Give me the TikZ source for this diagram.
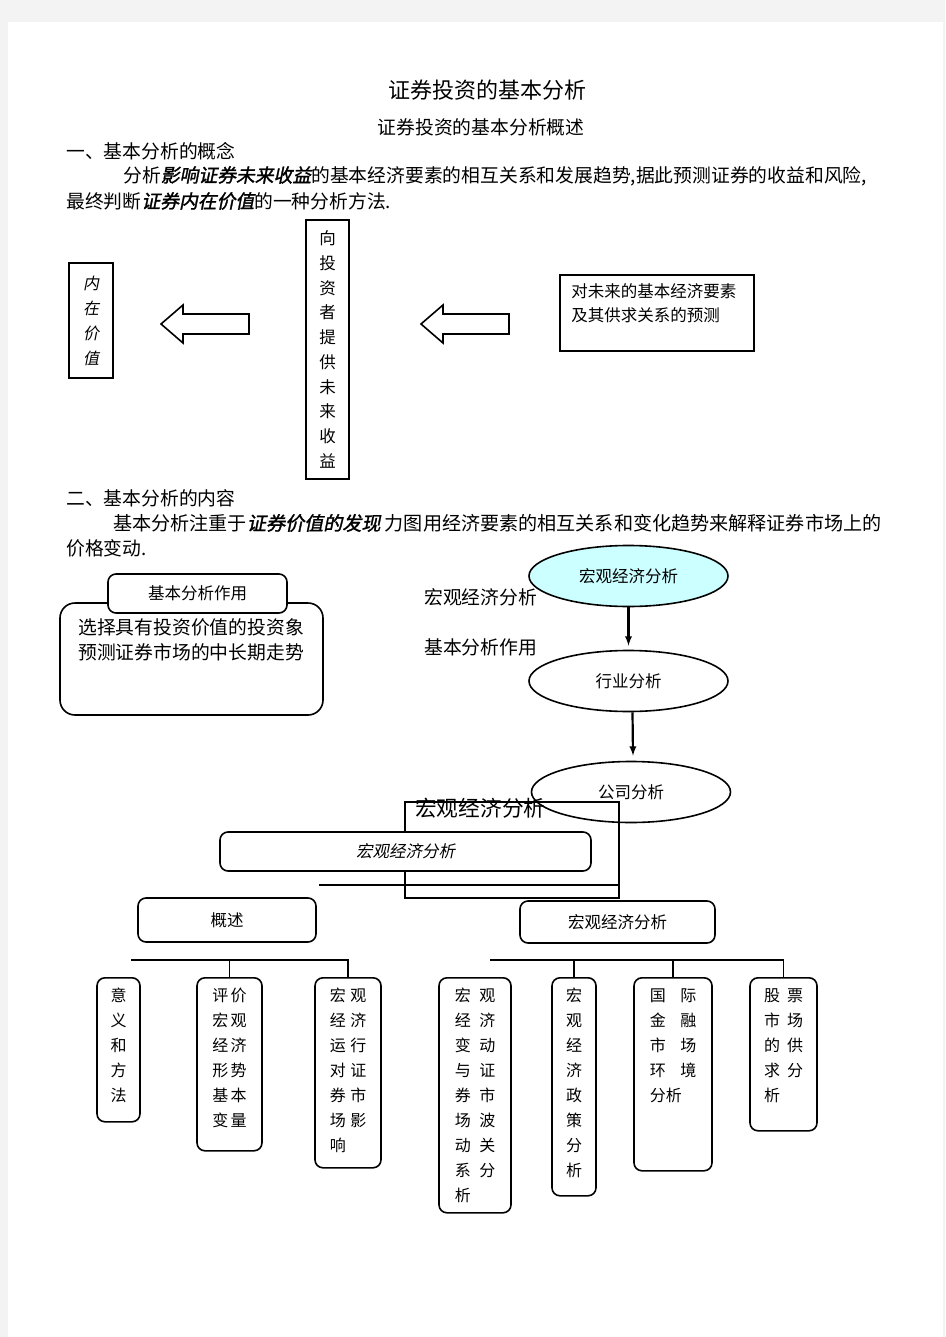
\documentclass[tikz,border=0pt]{standalone}
\usepackage{fontspec}
\setmainfont{Noto Sans CJK SC}
\newfontfamily\cjkit[FakeSlant=0.2]{Noto Sans CJK SC}
\newfontfamily\cjkbi[FakeSlant=0.2,FakeBold=1.5]{Noto Sans CJK SC}
\usetikzlibrary{shapes.geometric, arrows, positioning}
\definecolor{pagegray}{HTML}{F3F3F3}
\definecolor{paleaqua}{HTML}{CCFFFF}
\tikzstyle{bodytext} = [anchor=west, inner sep=0pt, font=\fontsize{18.8}{25}\selectfont]
\tikzstyle{plainbox} = [rectangle, draw=black, line width=1.6pt, inner sep=0pt, font=\fontsize{16.5}{24.7}\selectfont]
\tikzstyle{roundbox} = [rectangle, rounded corners=8pt, draw=black, line width=1.6pt, fill=white, inner sep=0pt, font=\fontsize{16.5}{25}\selectfont]
\tikzstyle{treebox} = [rectangle, rounded corners=8pt, draw=black, line width=1.6pt, inner sep=0pt, anchor=north]
\tikzstyle{oval} = [ellipse, draw=black, line width=1.6pt, inner sep=0pt, minimum width=199pt, minimum height=61pt, font=\fontsize{16.5}{25}\selectfont]
\tikzstyle{vtext} = [inner sep=0pt, align=left, anchor=north, font=\fontsize{16}{25}\selectfont]
\tikzstyle{arrow} = [line width=2.2pt,->,>=latex]
\tikzstyle{tree} = [line width=1.6pt]

\begin{document}
\begin{tikzpicture}[x=1pt, y=-1pt]

% Page
\fill [pagegray] (0,0) rectangle (945,1337);
\fill [white] (8,22) rectangle (943,1337);
\useasboundingbox (0,0) rectangle (945,1337);

% Heading and text
\node (title) [inner sep=0pt, font=\fontsize{22}{26}\selectfont] at (487,90) {证券投资的基本分析};
\node (subtitle) [inner sep=0pt, font=\fontsize{18.8}{25}\selectfont] at (481,127) {证券投资的基本分析概述};
\node (secone) [bodytext] at (66,151) {一、基本分析的概念};
\node (paraone) [bodytext] at (123,176) {分析{\cjkbi 影响证券未来收益}的基本经济要素的相互关系和发展趋势,据此预测证券的收益和风险,};
\node (paratwo) [bodytext] at (66,201) {最终判断{\cjkbi 证券内在价值}的一种分析方法.};

% Concept boxes
\node (intrinsic) [plainbox, minimum width=44pt, minimum height=115pt, align=center, font=\cjkit\fontsize{16}{25}\selectfont] at (91,320.5) {内\\在\\价\\值};
\node (investor) [plainbox, minimum width=43pt, minimum height=259pt, align=center] at (327.5,349.5) {向\\投\\资\\者\\提\\供\\未\\来\\收\\益};
\node (forecast) [plainbox, minimum width=194pt, minimum height=76pt] at (657,313) {};
\node (forecasttext) [inner sep=0pt, align=left, anchor=north west, font=\fontsize{16.5}{24}\selectfont, below right=9pt and 12pt of forecast.north west] {对未来的基本经济要素\\及其供求关系的预测};

% Block arrows
\draw [line width=1.6pt, line join=miter] (161,324) -- (183,305) -- (183,314) -- (249,314) -- (249,334) -- (183,334) -- (183,343) -- cycle;
\draw [line width=1.6pt, line join=miter] (421,324) -- (443,305) -- (443,314) -- (509,314) -- (509,334) -- (443,334) -- (443,343) -- cycle;

% Section two text
\node (sectwo) [bodytext] at (66,498) {二、基本分析的内容};
\node (parathree) [bodytext, font=\fontsize{19.1}{25}\selectfont] at (113,523) {基本分析注重于{\cjkbi 证券价值的发现}\ 力图用经济要素的相互关系和变化趋势来解释证券市场上的};
\node (parafour) [bodytext] at (66,548) {价格变动.};

% Role boxes
\node (rolebody) [roundbox, rounded corners=15pt, minimum width=263pt, minimum height=112pt] at (191.5,659) {};
\node (roletitle) [roundbox, minimum width=179pt, minimum height=39pt] at (197.5,593.5) {基本分析作用};
\node (roletext) [bodytext, anchor=north west, align=left] at (78,618) {选择具有投资价值的投资象\\预测证券市场的中长期走势};
\node (freeone) [bodytext] at (424,597) {宏观经济分析};
\node (freetwo) [bodytext] at (424,647) {基本分析作用};

% Analysis chain
\node (macro) [oval, fill=paleaqua] at (628.5,576) {宏观经济分析};
\node (industry) [oval] at (628.5,681) {行业分析};
\node (company) [oval] at (631,792) {公司分析};
\draw [arrow] (macro.south) -- ([yshift=4pt]industry.north);
\draw [arrow] ([xshift=4pt]industry.south) -- ([xshift=2pt,yshift=5pt]company.north);

% Overlapping frame
\node (overlapframe) [plainbox, minimum width=214pt, minimum height=96pt] at (512,850) {};
\node (overlaptext) [inner sep=0pt, anchor=west, font=\fontsize{21.7}{26}\selectfont] at (415,808) {宏观经济分析};
\coordinate (barstart) at (319,885);
\draw [line width=1.6pt] (barstart) -- (barstart -| overlapframe.east);
\node (macrobar) [roundbox, minimum width=371pt, minimum height=39pt, font=\cjkit\fontsize{16.5}{25}\selectfont] at (405.5,851.5) {宏观经济分析};

% Tree heads
\node (overview) [roundbox, minimum width=178pt, minimum height=44pt] at (227,920) {概述};
\node (macrohead) [roundbox, minimum width=195pt, minimum height=42pt] at (617.5,922) {宏观经济分析};

% Left tree
\coordinate (leftbar) at (131,960);
\node (meaning) [treebox, minimum width=43pt, minimum height=144pt] at (118.5,977) {};
\node (judge) [treebox, minimum width=65pt, minimum height=173pt] at (229.5,977) {};
\node (impact) [treebox, minimum width=66pt, minimum height=190pt] at (348,977) {};
\node (meaningtext) [vtext, below=11pt of meaning.north] {意\\义\\和\\方\\法};
\node (judgetext) [vtext, below=11pt of judge.north] {评\hspace{2.5pt}价\\宏\hspace{2.5pt}观\\经\hspace{2.5pt}济\\形\hspace{2.5pt}势\\基\hspace{2.5pt}本\\变\hspace{2.5pt}量};
\node (impacttext) [vtext, below=11pt of impact.north] {宏\hspace{4.5pt}观\\经\hspace{4.5pt}济\\运\hspace{4.5pt}行\\对\hspace{4.5pt}证\\券\hspace{4.5pt}市\\场\hspace{4.5pt}影\\响};
\draw [tree] (leftbar) -- (impact.north |- leftbar) -- (impact.north);
\draw [tree] (judge.north |- leftbar) -- (judge.north);

% Right tree
\coordinate (rightbar) at (490,960);
\node (linkage) [treebox, minimum width=72pt, minimum height=235pt] at (475,977) {};
\node (policy) [treebox, minimum width=44pt, minimum height=218pt] at (574,977) {};
\node (global) [treebox, minimum width=78pt, minimum height=193pt] at (673,977) {};
\node (stock) [treebox, minimum width=67pt, minimum height=153pt] at (783.5,977) {};
\node (linkagetext) [vtext, below=11pt of linkage.north] {宏\hspace{8.5pt}观\\经\hspace{8.5pt}济\\变\hspace{8.5pt}动\\与\hspace{8.5pt}证\\券\hspace{8.5pt}市\\场\hspace{8.5pt}波\\动\hspace{8.5pt}关\\系\hspace{8.5pt}分\\析};
\node (policytext) [vtext, below=11pt of policy.north] {宏\\观\\经\\济\\政\\策\\分\\析};
\node (globaltext) [vtext, below=11pt of global.north] {国\hspace{14.5pt}际\\金\hspace{14.5pt}融\\市\hspace{14.5pt}场\\环\hspace{14.5pt}境\\分析};
\node (stocktext) [vtext, below=11pt of stock.north] {股\hspace{7pt}票\\市\hspace{7pt}场\\的\hspace{7pt}供\\求\hspace{7pt}分\\析};
\draw [tree] (rightbar) -- (stock.north |- rightbar) -- (stock.north);
\draw [tree] (policy.north |- rightbar) -- (policy.north);
\draw [tree] (global.north |- rightbar) -- (global.north);

\end{tikzpicture}
\end{document}
